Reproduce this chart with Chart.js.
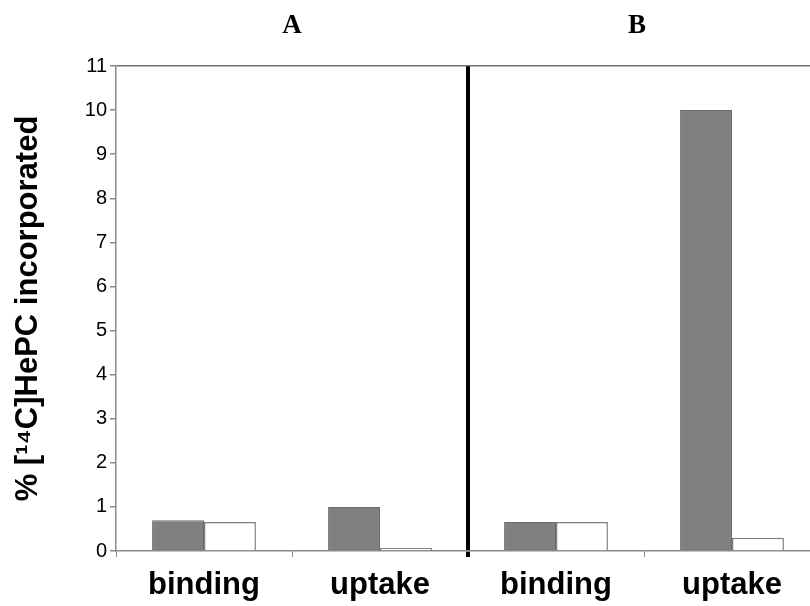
<!DOCTYPE html>
<html>
<head>
<meta charset="utf-8">
<script src="https://cdn.jsdelivr.net/npm/chart.js@4"></script>
<style>
  html, body { margin: 0; padding: 0; background: #fff; overflow: hidden; }
  #wrap { width: 822px; height: 606px; }
</style>
</head>
<body>
<div id="wrap"><canvas id="myChart" width="822" height="606"></canvas></div>
<script>
// categories along x, two panels (A = first two, B = last two)
const categories = ['binding', 'uptake', 'binding', 'uptake'];
const panelTitles = ['A', 'B'];
// % [14C]HePC incorporated
const grayValues = [0.70, 1.0, 0.66, 10.0];
const whiteValues = [0.66, 0.07, 0.66, 0.30];
const yMin = 0;
const yMax = 11;
const yStep = 1;

// draws the A / B headings over each half of the plot
const panelTitlePlugin = {
    id: 'panelTitles',
    afterDraw(chart) {
        const x = chart.scales.x;
        const ctx = chart.ctx;
        ctx.save();
        ctx.font = 'bold 27px "Liberation Serif", "DejaVu Serif", serif';
        ctx.fillStyle = '#000';
        ctx.textAlign = 'center';
        ctx.textBaseline = 'middle';
        for (let i = 0; i < panelTitles.length; i++) {
            const cx = (x.getPixelForValue(i * 2) + x.getPixelForValue(i * 2 + 1)) / 2;
            ctx.fillText(panelTitles[i], cx - i * 7, 26);
        }
        ctx.restore();
    }
};

const data = {
    labels: categories,
    datasets: [{
        label: 'gray',
        data: grayValues,
        backgroundColor: '#808080',
        borderColor: '#6a6a6a',
        borderWidth: 1
    }, {
        label: 'white',
        data: whiteValues,
        backgroundColor: '#ffffff',
        borderColor: '#808080',
        borderWidth: 1.5
    }]
};

const config = {
    type: 'bar',
    data: data,
    options: {
        responsive: false,
        animation: false,
        layout: { padding: { left: 0, top: 66, right: 2, bottom: 0 } },
        datasets: {
            bar: { categoryPercentage: 0.59, barPercentage: 1.0 }
        },
        plugins: {
            legend: { display: false },
            tooltip: { enabled: false }
        },
        scales: {
            x: {
                afterFit(scale) { scale.height = 55; },
                border: { color: '#8a8a8a', width: 1.5 },
                grid: {
                    offset: true,
                    // only the divider between the two panels is drawn on the chart area
                    color: ctx => ctx.index === 2 ? '#000' : 'rgba(0,0,0,0)',
                    lineWidth: ctx => ctx.index === 2 ? 4 : 1,
                    tickColor: ctx => ctx.index === 2 ? '#000' : '#8a8a8a',
                    tickWidth: ctx => ctx.index === 2 ? 4 : 1,
                    tickLength: 6
                },
                ticks: {
                    color: '#000',
                    padding: 10,
                    font: { family: '"Liberation Sans", Arial, sans-serif', size: 31, weight: 'bold' }
                }
            },
            y: {
                min: yMin,
                max: yMax,
                afterFit(scale) { scale.width = 116; },
                border: { color: '#8a8a8a', width: 1.5 },
                grid: {
                    color: ctx => ctx.tick && ctx.tick.value === yMax ? '#707070' : 'rgba(0,0,0,0)',
                    lineWidth: 1.5,
                    tickColor: '#8a8a8a',
                    tickLength: 6
                },
                ticks: {
                    stepSize: yStep,
                    color: '#000',
                    padding: 3,
                    font: { family: '"Liberation Sans", Arial, sans-serif', size: 20 }
                },
                title: {
                    display: true,
                    text: '% [\u00B9\u2074C]HePC incorporated',
                    color: '#000',
                    padding: { top: 10, bottom: 0 },
                    font: { family: '"Liberation Sans", Arial, sans-serif', size: 31, weight: 'bold' }
                }
            }
        }
    },
    plugins: [panelTitlePlugin]
};

const myChart = new Chart(document.getElementById('myChart'), config);
</script>
</body>
</html>
